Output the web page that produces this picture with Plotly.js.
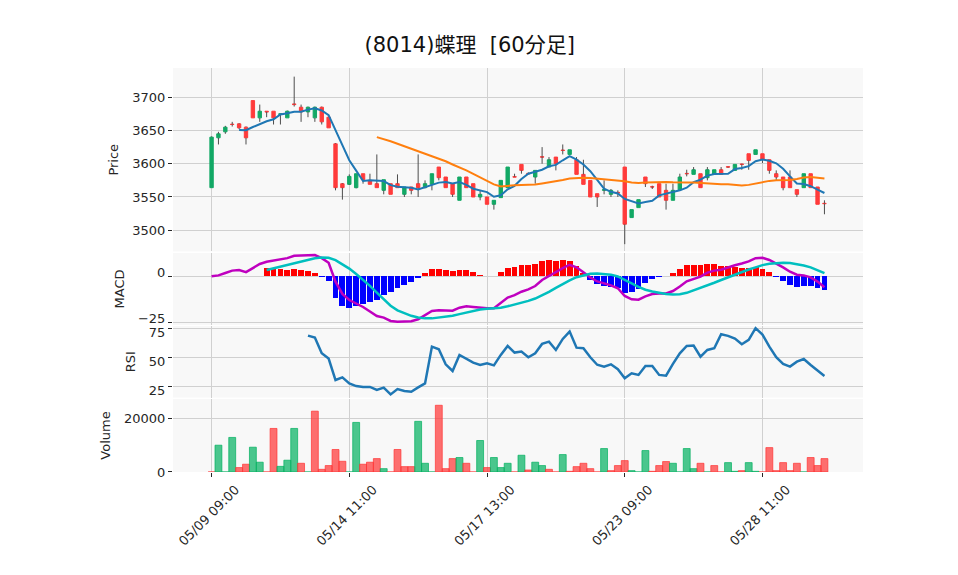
<!DOCTYPE html>
<html><head><meta charset="utf-8">
<script src="https://cdn.plot.ly/plotly-3.0.1.min.js"></script>
<style>html,body{margin:0;padding:0;background:#fff}#chart{width:958px;height:575px}</style>
</head><body><div id="chart"></div>
<script>
// ---- data ----
const days = ['05/09','05/10','05/13','05/14','05/15','05/16','05/17','05/20','05/21','05/22','05/23','05/24','05/27','05/28','05/29'];
const hours = ['09:00','10:00','11:00','12:00','13:00','14:00'];
const tickLabels = ['05/09 09:00','05/14 11:00','05/17 13:00','05/23 09:00','05/28 11:00'];

const openP = [3564,3639,3648,3659.5,3660,3655,3695,3669,3679,3679,
3674,3669,3690,3685,3678,3669,3685,3670,3630,3570,
3569,3564,3585,3575,3570,3560,3570,3570,3554,3565,
3570,3564,3569,3595,3580,3570,3545,3580,3570,3550,
3550,3539,3549,3564,3580.5,3599,3585.5,3580,3610.5,3595,
3610,3620.5,3614,3606,3584,3575,3555,3560,3554,3557,
3595,3519,3534,3580,3565.5,3570,3560,3545,3561,3585.5,
3584,3585,3579,3584,3591,3595.5,3590,3599.5,3615,3614,
3615,3606,3585,3580,3580,3561,3564,3585,3565,3540.5];
const highP = [3641,3648,3657,3663,3661,3656,3695,3689,3679,3679,
3675,3680,3731,3689,3686,3686,3686,3671,3631,3571,
3584,3585,3585,3585,3614,3576,3570,3584,3565,3565,
3614,3575,3585,3595,3580,3570,3580,3580,3570,3560,
3550,3545,3575,3595,3585,3599,3587,3590,3625,3610,
3610,3629,3621,3610,3606,3575,3555,3575,3562,3560,
3595,3531,3546,3580,3567,3570,3570,3570,3585,3591,
3595,3585,3595,3591,3595,3596,3599,3600,3615,3621,
3615,3606,3590,3580,3590,3561,3585,3585,3565,3545];
const lowP = [3564,3629,3645,3656,3652,3629,3669,3663,3670,3659,
3659,3669,3686,3663,3670,3663,3659,3654,3560,3546,
3568,3563,3570,3569,3564,3554,3554,3564,3550,3554,
3550,3563,3560,3575,3564,3550,3545,3564,3550,3545,
3539,3531,3549,3564,3580,3585,3584,3570,3600,3595,
3590,3614,3614,3584,3569,3550,3535,3554,3550,3550,
3479,3519,3534,3565,3562,3550,3531,3545,3561,3581,
3584,3564,3575,3584,3584,3594,3590,3591,3591,3614,
3601,3585,3575,3560,3564,3550,3564,3564,3539,3524];
const closeP = [3640,3645,3655,3659,3654,3639,3669,3679,3678,3669,
3675,3679,3689,3678,3685,3685,3663,3654,3564,3564,
3581,3585,3576,3569,3564,3576,3554,3564,3565,3560,
3564,3570,3585,3579,3564,3554,3580,3564,3550,3554,
3539,3545,3575,3595,3580,3590,3585,3590,3610,3606,
3600,3620,3621,3584,3569,3550,3550,3561,3560,3556,
3509,3531,3546,3570,3565,3550,3545,3560,3580,3585,
3591,3564,3591,3591,3584,3595,3599,3599,3605,3621,
3607,3590,3580,3564,3564,3554,3585,3564,3539,3540];

const ma5 = [null,null,null,null,
3650.6,3650.4,3655.2,3660.0,3663.8,3666.8,3674.0,3676.0,3678.2,3678.2,
3681.4,3683.4,3680.2,3673.0,3650.2,3626.0,3605.2,3589.6,3574.0,3575.0,
3575.0,3574.0,3567.8,3565.4,3564.6,3563.8,3561.4,3564.6,3568.8,3571.6,
3572.4,3570.4,3572.4,3568.2,3562.4,3560.4,3557.4,3550.4,3552.6,3561.6,
3566.8,3577.0,3585.0,3588.0,3591.0,3596.2,3598.2,3605.2,3611.4,3606.2,
3598.8,3588.8,3574.8,3562.6,3557.8,3555.2,3547.0,3543.2,3540.4,3542.4,
3544.2,3552.4,3555.2,3558.0,3560.0,3564.0,3572.2,3576.0,3582.2,3584.4,
3584.2,3585.0,3592.0,3593.6,3596.4,3603.8,3606.2,3604.4,3600.6,3592.4,
3581.0,3570.4,3569.4,3566.2,3561.2,3556.0];
const ma25 = [null,null,null,null,null,null,null,null,null,null,null,null,
null,null,null,null,null,null,null,null,null,null,null,null,
3640.0,3637.4,3633.8,3630.1,3626.4,3622.6,3619.6,3615.6,3611.9,3607.9,
3603.7,3598.9,3594.9,3589.9,3584.8,3579.5,3573.7,3569.0,3565.8,3567.0,
3567.7,3568.0,3568.0,3568.6,3570.2,3571.9,3572.9,3575.5,3577.8,3578.6,
3578.9,3578.4,3577.6,3576.6,3575.8,3575.5,3573.7,3571.7,3571.0,3571.8,
3572.2,3572.7,3572.7,3572.1,3571.5,3571.7,3571.7,3570.9,3570.9,3570.2,
3569.3,3569.1,3568.2,3567.4,3568.2,3570.3,3572.6,3574.2,3575.0,3575.1,
3575.4,3577.2,3579.4,3580.1,3578.9,3577.9];

const macd = [0,0.5,1.8,3.1,3.4,2.3,4.5,6.7,7.9,8.7,
9.2,9.9,11.2,11.4,11.7,11.6,9.9,7.4,-2.9,-9.6,
-12.9,-14.7,-16.7,-19.2,-21.6,-22.5,-24.3,-24.8,-24.8,-24.5,
-23.4,-21.2,-18.9,-18.5,-18.5,-18.7,-17.1,-16.3,-16.7,-17.2,
-17.4,-17.4,-14.7,-11.6,-10.2,-8.4,-7.1,-5.3,-2.0,0.2,
2.0,4.5,6.3,4.9,2.2,-0.6,-2.8,-3.8,-4.9,-6.5,
-10.7,-12.5,-12.7,-10.9,-9.6,-9.3,-9.3,-8.0,-5.6,-2.7,
-1.3,-0.2,2.0,3.1,3.6,4.9,6.0,7.0,8.1,9.9,
10.1,8.9,7.0,4.9,2.5,0.9,0.5,-0.6,-2.9,-6.0];
const signal = [null,null,null,null,null,null,null,null,
3.4,4.3,5.3,6.2,7.1,8.0,9.0,9.8,10.2,10.1,8.8,6.7,
4.2,1.3,-1.8,-5.2,-8.9,-12.5,-16.0,-18.5,-20.2,-21.5,
-22.4,-22.9,-22.9,-22.5,-22.1,-21.5,-20.6,-19.7,-18.8,-18.1,
-17.7,-17.5,-17.1,-16.3,-15.4,-14.4,-13.4,-12.1,-10.5,-8.5,
-6.3,-4.2,-2.2,-0.5,0.6,1.4,1.6,1.4,0.9,-0.1,
-1.8,-3.9,-5.8,-7.3,-8.3,-9.0,-9.6,-9.9,-9.8,-9.0,
-7.7,-6.3,-4.9,-3.5,-2.0,-0.5,1.1,2.5,3.7,4.9,
6.1,6.8,7.3,7.4,7.2,6.6,5.9,4.9,3.5,1.7];
const hist = [null,null,null,null,null,null,null,null,
4.5,4.4,3.9,3.7,4.1,3.4,2.7,1.8,-0.3,-2.7,-11.7,-16.3,
-17.1,-16.0,-14.9,-14.0,-12.7,-10.0,-8.3,-6.3,-4.6,-3.0,
-1.0,1.7,4.0,4.0,3.6,2.8,3.5,3.4,2.1,0.9,
0.3,0.1,2.4,4.7,5.2,6.0,6.3,6.8,8.5,8.7,
8.3,8.7,8.5,5.4,1.6,-2.0,-4.4,-5.2,-5.8,-6.4,
-8.9,-8.6,-6.9,-3.6,-1.3,-0.3,0.3,1.9,4.2,6.3,
6.4,6.1,6.9,6.6,5.6,5.4,4.9,4.5,4.4,5.0,
4.0,2.1,-0.3,-2.5,-4.7,-5.7,-5.4,-5.5,-6.4,-7.7];

const rsi = [null,null,null,null,null,null,null,null,null,null,null,null,null,null,
68.7,67.0,53.4,48.8,30.3,32.6,27.4,25.1,24.3,24.3,
21.7,23.7,17.9,22.5,20.8,20.2,24.0,27.4,59.2,56.9,
43.9,38.1,52.0,48.5,45.3,43.3,44.8,43.0,52.0,59.8,
54.0,54.9,50.0,53.4,61.5,63.5,56.3,65.8,72.2,58.3,
57.8,50.0,43.5,41.9,43.9,39.6,31.8,36.1,34.7,42.5,
42.5,34.7,34.1,44.2,53.4,59.8,60.1,50.5,56.3,57.8,
69.9,68.5,66.1,61.2,65.0,75.1,69.6,59.2,50.0,44.2,
41.9,46.2,48.5,43.3,38.4,33.8];

const volume = [0,10000,0,12900,1650,2900,9250,3650,0,16250,
2100,4400,16250,3250,0,22700,1000,2400,8400,4000,
0,18500,2900,3650,5000,1250,0,8400,2000,2000,
18900,3250,0,24900,1250,5000,5400,3250,0,11750,
1650,5400,1650,3250,0,6250,750,3650,2400,1000,
0,6500,250,2000,3250,1250,0,8750,500,2400,
4250,500,0,8000,250,2400,3900,3250,0,8750,
1250,3250,0,2400,0,3500,250,500,3500,250,
0,9100,500,3500,500,3250,0,5400,2400,5000];
const volUp = [0,1,1,1,0,0,1,1,0,0,
1,1,1,0,1,0,0,0,0,0,
1,1,0,0,0,1,0,0,0,0,
1,1,1,0,0,0,1,0,0,1,
0,1,1,1,0,1,0,1,1,0,
0,1,0,0,0,0,0,1,0,0,
0,1,1,1,0,0,0,1,1,1,
1,0,1,0,0,1,1,0,1,1,
0,0,0,0,0,0,1,0,0,0];

// ---- styles ----
const FONT = '"DejaVu Sans", "Noto Sans CJK JP", sans-serif';
const TXT = '#262626';
const INC = '#12a865', DEC = '#ff3b3b';
const VOL_UP = 'rgba(0,176,96,0.7)', VOL_DN = 'rgba(255,51,51,0.7)';
const GRID = '#d0d0d0';

// category labels
const labels = [];
days.forEach(d => hours.forEach(h => labels.push(d + ' ' + h)));

// wick segments outside the body
const wx = [], wy = [];
labels.forEach((l, i) => {
  const top = Math.max(openP[i], closeP[i]), bot = Math.min(openP[i], closeP[i]);
  wx.push(l, l, null, l, l, null);
  wy.push(lowP[i], bot, null, top, highP[i], null);
});
const bodyHigh = openP.map((o, i) => Math.max(o, closeP[i]));
const bodyLow = openP.map((o, i) => Math.min(o, closeP[i]));

const traces = [
  {type:'scatter', mode:'lines', x:wx, y:wy, xaxis:'x', yaxis:'y',
   line:{color:'#4d4d4d', width:1}, hoverinfo:'skip', connectgaps:false},
  {type:'candlestick', x:labels, open:openP, high:bodyHigh, low:bodyLow, close:closeP,
   xaxis:'x', yaxis:'y', whiskerwidth:0,
   increasing:{line:{color:INC, width:1}, fillcolor:INC},
   decreasing:{line:{color:DEC, width:1}, fillcolor:DEC}},
  {type:'scatter', mode:'lines', x:labels, y:ma5, xaxis:'x', yaxis:'y',
   line:{color:'#1f77b4', width:2}},
  {type:'scatter', mode:'lines', x:labels, y:ma25, xaxis:'x', yaxis:'y',
   line:{color:'#ff7f0e', width:2}},
  {type:'bar', x:labels, y:hist, xaxis:'x2', yaxis:'y2', width:0.85,
   marker:{color:hist.map(v => v == null ? 'red' : (v >= 0 ? '#ff0000' : '#0000ff')), line:{width:0}}},
  {type:'scatter', mode:'lines', x:labels, y:macd, xaxis:'x2', yaxis:'y2',
   line:{color:'#bf00bf', width:2.5}},
  {type:'scatter', mode:'lines', x:labels, y:signal, xaxis:'x2', yaxis:'y2',
   line:{color:'#00bfbf', width:2.5}},
  {type:'scatter', mode:'lines', x:labels, y:rsi, xaxis:'x3', yaxis:'y3',
   line:{color:'#1f77b4', width:2.5}},
  {type:'bar', x:labels, y:volume, xaxis:'x4', yaxis:'y4', width:1,
   marker:{color:volUp.map(u => u ? VOL_UP : VOL_DN),
           line:{color:volUp.map(u => u ? VOL_UP : VOL_DN), width:1}}}
];

const xBase = {type:'category', range:[-5.6, 94.6], tickvals:tickLabels, ticktext:tickLabels,
  showgrid:true, gridcolor:GRID, gridwidth:1, zeroline:false, showline:false,
  showticklabels:false, ticks:'', fixedrange:true, rangeslider:{visible:false}};
const yBase = {showgrid:true, gridcolor:GRID, gridwidth:1, zeroline:false, showline:false,
  ticks:'outside', ticklen:4, tickcolor:TXT, tickfont:{size:13, color:TXT}};
const yTitle = t => ({text:t, font:{size:13, color:TXT}, standoff:10});

const layout = {
  width:958, height:575,
  margin:{l:173, r:95, t:68, b:103},
  paper_bgcolor:'#ffffff', plot_bgcolor:'#f8f8f8',
  showlegend:false, bargap:0,
  font:{family:FONT, size:13, color:TXT},
  title:{text:'(8014)蝶理  [60分足]', x:0.4903, xref:'container', xanchor:'center',
         y:1 - 45/575, yref:'container', yanchor:'middle', font:{size:21, color:'#111'}},
  xaxis: Object.assign({}, xBase, {anchor:'y'}),
  xaxis2: Object.assign({}, xBase, {anchor:'y2'}),
  xaxis3: Object.assign({}, xBase, {anchor:'y3'}),
  xaxis4: Object.assign({}, xBase, {anchor:'y4', showticklabels:true, tickangle:-45,
          ticks:'outside', ticklen:4, tickcolor:TXT, tickfont:{size:13, color:TXT},
          ticklabelshift:24}),
  yaxis: Object.assign({}, yBase, {domain:[0.5458, 1], range:[3468, 3744], dtick:50,
          title:yTitle('Price')}),
  yaxis2: Object.assign({}, yBase, {domain:[0.3639, 0.5421], range:[-26.5, 12.7], dtick:25, tick0:0,
          ticklabelshift:-4, title:yTitle('MACD')}),
  yaxis3: Object.assign({}, yBase, {domain:[0.1844, 0.3614], range:[15.2, 77], dtick:25, tick0:0,
          ticklabelshift:4, title:yTitle('RSI')}),
  yaxis4: Object.assign({}, yBase, {domain:[0, 0.1807], range:[0, 27240], dtick:20000, tick0:0,
          tickformat:'d', title:yTitle('Volume')})
};

Plotly.newPlot('chart', traces, layout, {staticPlot:true, displayModeBar:false});
</script>
</body></html>
